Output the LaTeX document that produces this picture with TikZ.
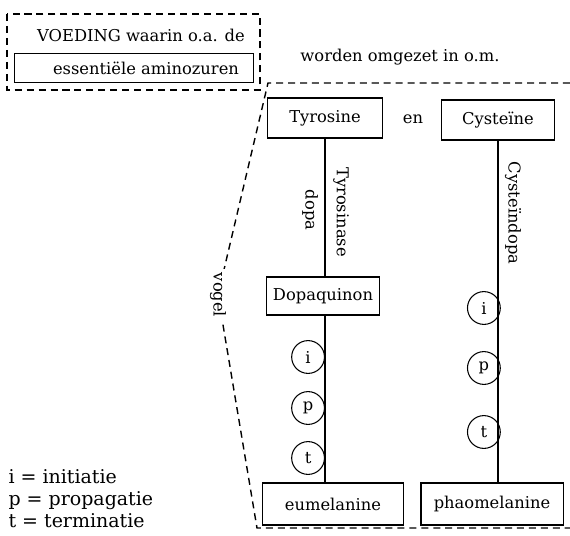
\documentclass[tikz,border=0pt]{standalone}
\usepackage{fontspec}
\setmainfont{DejaVu Serif}
\usetikzlibrary{positioning,calc}
\tikzset{every picture/.style={line width=0.75pt}}
\tikzset{
    stof/.style={draw, minimum height=1cm, inner sep=2pt, font=\fontsize{11.6}{13}\selectfont},
    fase/.style={draw, circle, minimum size=0.82cm, inner sep=0pt, font=\fontsize{11.6}{13}\selectfont},
    tekst/.style={font=\fontsize{11.6}{13}\selectfont},
    stip/.style={line width=1pt, dash pattern=on 5pt off 3.5pt},
}

\begin{document}
\begin{tikzpicture}[x=0.025cm, y=0.025cm]
    \useasboundingbox (0,0) rectangle (570,535);
    \node[tekst] (voeding) at (141,500) {VOEDING waarin o.a. de};
    \node[stof, minimum width=5.95cm, minimum height=0.72cm] (amino) at (134,467) {\hspace{0.6cm}essentiële aminozuren};
    \draw[stip] (7,521) rectangle (260,445);
    \node[tekst] (omgezet) at (400,478) {worden omgezet in o.m.};
    \node[stof, minimum width=2.87cm] (tyr) at (325,417) {Tyrosine};
    \node[stof, minimum width=2.83cm] (cys) at (498,415) {Cysteïne};
    \node[tekst] (en) at (413,416) {en};
    \node[stof, minimum width=2.83cm, minimum height=0.95cm] (dq) at (323,239) {Dopaquinon};
    \node[stof, minimum width=3.52cm, minimum height=1.05cm] (eu) at (333,31) {eumelanine};
    \node[stof, minimum width=3.55cm, minimum height=1.05cm] (pha) at (492,31) {phaomelanine};
    \draw (tyr.south) -- (tyr.south |- dq.north);
    \draw (dq.south -| tyr.south) -- (tyr.south |- eu.north);
    \draw (cys.south) -- (cys.south |- pha.north);
    \node[tekst, rotate=-90] (tyrase) at (341,323) {Tyrosinase};
    \node[tekst, rotate=-90] (dopa) at (310,325) {dopa};
    \node[tekst, rotate=-90] (cysdopa) at (513,322) {Cysteïndopa};
    \node[fase, anchor=east] (i1) at ($(tyr.south |- 0,178)$) {i};
    \node[fase, anchor=east] (p1) at ($(tyr.south |- 0,127)$) {p};
    \node[fase, anchor=east] (t1) at ($(tyr.south |- 0,77)$) {t};
    \node[fase, anchor=east, xshift=2pt] (i2) at ($(cys.south |- 0,227)$) {i};
    \node[fase, anchor=east, xshift=2pt] (p2) at ($(cys.south |- 0,167)$) {p};
    \node[fase, anchor=east, xshift=2pt] (t2) at ($(cys.south |- 0,103)$) {t};
    \draw[stip] (570,452) -- (268,452) -- (218,240) -- (257,7) -- (570,7);
    \node[tekst, rotate=-90, fill=white, inner sep=3pt] (vogel) at (218,240) {vogel};
    \node[anchor=north west, align=left, inner sep=0pt, font=\fontsize{13.5}{15.5}\selectfont] (legenda) at (8,66)
        {i = initiatie\\p = propagatie\\t = terminatie};
\end{tikzpicture}
\end{document}
